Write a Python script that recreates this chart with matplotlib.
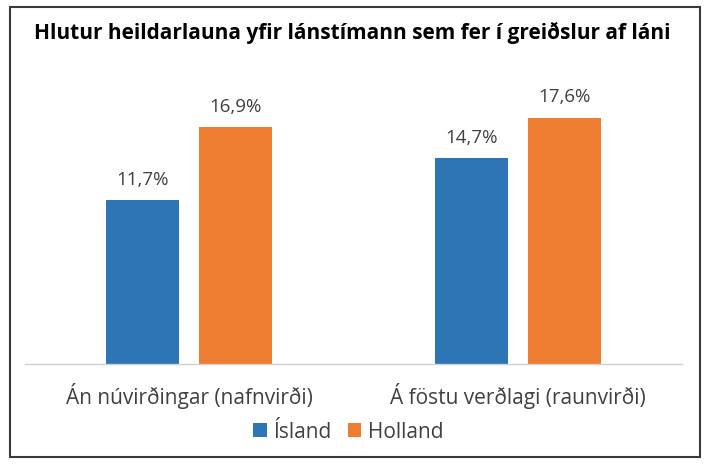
import matplotlib
matplotlib.use("Agg")
import matplotlib.pyplot as plt
from matplotlib.patches import Rectangle
import numpy as np

title = "Hlutur heildarlauna yfir lánstímann sem fer í greiðslur af láni"
categories = ["Án núvirðingar (nafnvirði)", "Á föstu verðlagi (raunvirði)"]
series_names = ["Ísland", "Holland"]
island = [11.7, 14.7]
holland = [16.9, 17.6]
colors = ["#2E75B6", "#ED7D31"]

plt.rcParams['font.family'] = ['Open Sans', 'DejaVu Sans']

W, H = 713, 476
fig = plt.figure(figsize=(W/100, H/100), dpi=100)
fig.patch.set_facecolor("white")

# outer border
fig.add_artist(Rectangle((10/W, 1 - 457/H), 690/W, 450/H, transform=fig.transFigure,
                         fill=False, edgecolor="#3a3a3a", linewidth=1.5))

ax = fig.add_axes([25/W, 1 - 364/H, 657/W, 280/H])
x = np.arange(len(categories))
bw = 0.222
off = 0.1416
vals = [island, holland]
for i, (name, v) in enumerate(zip(series_names, vals)):
    pos = x + (-off if i == 0 else off)
    bars = ax.bar(pos, v, width=bw, color=colors[i], label=name, zorder=2)
    for b, val in zip(bars, v):
        ax.text(b.get_x() + b.get_width()/2, val + 0.8, f"{val:.1f}%".replace(".", ","),
                ha="center", va="bottom", fontsize=13.5, color="#404040")

ax.set_xlim(-0.5, 1.5)
ax.set_ylim(0, 20)
ax.set_yticks([])
ax.set_xticks(x)
ax.set_xticklabels(categories, fontsize=15, color="#404040")
ax.tick_params(axis="x", length=0, pad=14)
for s in ["top", "right", "left"]:
    ax.spines[s].set_visible(False)
ax.spines["bottom"].set_color("#d0d0d0")
ax.spines["bottom"].set_linewidth(1)

fig.text(352/W, 1 - 33/H, title, ha="center", va="center", fontsize=15,
         fontweight="bold", color="black")

leg = fig.legend(loc="center", bbox_to_anchor=(348/W, 1 - 432/H), ncol=2, frameon=False,
                 fontsize=15, handlelength=0.65, handleheight=0.65, handletextpad=0.3,
                 columnspacing=0.8, labelcolor="#404040")

fig.savefig("out.png", dpi=100)
